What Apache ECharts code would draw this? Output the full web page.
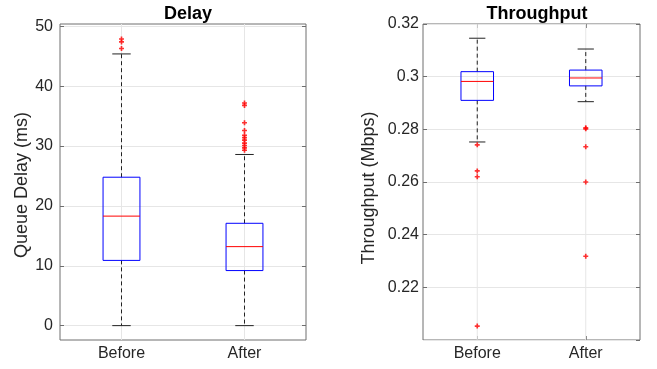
<!DOCTYPE html>
<html lang="en">

<head>
    <meta charset="UTF-8">
    <title>Delay / Throughput</title>
    <style>
        html, body { margin: 0; padding: 0; background: #fff; }
    </style>
</head>

<body>
    <div id="main" style="width: 657px;height:369px;"></div>
</body>
<script src="https://cdn.jsdelivr.net/npm/echarts@6/dist/echarts.min.js"></script>

<script>
    // data
    var categories = ['Before', 'After'];
    // [min whisker, Q1, median, Q3, max whisker]
    var delayStats = [[0, 10.9, 18.3, 24.8, 45.4], [0, 9.2, 13.2, 17.1, 28.6]];
    var delayOutliers = [[47.9, 47.4, 46.3],
        [37.2, 36.8, 33.9, 32.6, 31.8, 31.4, 31.0, 30.5, 30.1, 29.7, 29.3]];
    var tputStats = [[0.2752, 0.2910, 0.2982, 0.3019, 0.3146], [0.2905, 0.2965, 0.2995, 0.3025, 0.3105]];
    var tputOutliers = [[0.2741, 0.2642, 0.2620, 0.2053], [0.2806, 0.2802, 0.2734, 0.2600, 0.2318]];
    var delayTicks = [0, 10, 20, 30, 40, 50];

    var font = 'Liberation Sans, Arial, Helvetica, sans-serif';
    var textColor = '#262626';
    var frameColor = '#6e6e6e';
    var gridColor = '#e6e6e6';
    var plusSymbol = 'path://M0,2h6v2h-6zM2,0h2v6h-2z';

    function boxRows(stats) {
        var rows = [];
        for (var i = 0; i < stats.length; i++) {
            rows.push([i].concat(stats[i]));
        }
        return rows;
    }

    function outlierRows(list) {
        var rows = [];
        for (var i = 0; i < list.length; i++) {
            for (var j = 0; j < list[i].length; j++) {
                rows.push([i, list[i][j]]);
            }
        }
        return rows;
    }

    // matlab style box: blue box, red median, black dashed whiskers
    function renderBox(params, api) {
        var i = api.value(0);
        var pMin = api.coord([i, api.value(1)]);
        var pQ1 = api.coord([i, api.value(2)]);
        var pMed = api.coord([i, api.value(3)]);
        var pQ3 = api.coord([i, api.value(4)]);
        var pMax = api.coord([i, api.value(5)]);
        var bw = api.size([1, 0])[0];
        var hb = bw * 0.15, hc = bw * 0.075;
        var x = pMin[0];
        var cs = params.coordSys;
        var dash = { stroke: '#222', lineWidth: 1, lineDash: [4, 3] };
        var solid = { stroke: '#222', lineWidth: 1 };
        return {
            type: 'group',
            children: [
                { type: 'line', shape: { x1: x, y1: cs.y, x2: x, y2: cs.y + cs.height }, style: { stroke: gridColor, lineWidth: 1 } },
                { type: 'line', shape: { x1: x, y1: pQ3[1], x2: x, y2: pMax[1] }, style: dash },
                { type: 'line', shape: { x1: x, y1: pQ1[1], x2: x, y2: pMin[1] }, style: dash },
                { type: 'line', shape: { x1: x - hc, y1: pMax[1], x2: x + hc, y2: pMax[1] }, style: solid },
                { type: 'line', shape: { x1: x - hc, y1: pMin[1], x2: x + hc, y2: pMin[1] }, style: solid },
                { type: 'rect', shape: { x: x - hb, y: pQ3[1], width: 2 * hb, height: pQ1[1] - pQ3[1] }, style: { fill: 'none', stroke: '#0000ff', lineWidth: 1 } },
                { type: 'line', shape: { x1: x - hb, y1: pMed[1], x2: x + hb, y2: pMed[1] }, style: { stroke: '#ff0000', lineWidth: 1 } }
            ]
        };
    }

    function catAxis(idx, pos) {
        return {
            type: 'category', gridIndex: idx, position: pos, data: categories,
            axisLine: { show: false },
            axisTick: { show: true, inside: true, length: 4, alignWithLabel: true, lineStyle: { color: frameColor } },
            axisLabel: { show: pos === 'bottom', color: textColor, fontSize: 16, fontFamily: font, margin: 6 },
            splitLine: { show: false }
        };
    }

    function valAxis(idx, pos, extra) {
        var ax = {
            type: 'value', gridIndex: idx, position: pos,
            axisLine: { show: false },
            axisTick: { show: true, inside: true, length: 4, lineStyle: { color: frameColor } },
            axisLabel: { show: pos === 'left', color: textColor, fontSize: 16, fontFamily: font },
            splitLine: { show: pos === 'left', lineStyle: { color: gridColor, width: 1 } },
            nameTextStyle: { color: textColor, fontSize: 18, fontFamily: font }
        };
        for (var k in extra) ax[k] = extra[k];
        return ax;
    }

    var delayY = { min: -2.4, max: 50.4 };
    var tputY = { min: 0.2, max: 0.32, interval: 0.02 };

    var myChart = echarts.init(document.getElementById('main'));
    var yL0 = valAxis(0, 'left', delayY);
    yL0.axisTick.customValues = delayTicks;
    yL0.axisLabel.customValues = delayTicks;
    yL0.axisLabel.margin = 7;
    yL0.name = 'Queue Delay (ms)';
    yL0.nameLocation = 'middle';
    yL0.nameGap = 27;
    yL0.nameTextStyle.padding = [0, 6, 0, 0];
    var yR0 = valAxis(0, 'right', delayY);
    yR0.axisTick.customValues = delayTicks;
    var yL1 = valAxis(1, 'left', tputY);
    yL1.axisLabel.showMinLabel = false;
    yL1.axisLabel.margin = 4;
    yL1.name = 'Throughput (Mbps)';
    yL1.nameLocation = 'middle';
    yL1.nameGap = 45;
    yL1.nameTextStyle.padding = [0, 12, 0, 0];
    var yR1 = valAxis(1, 'right', tputY);

    myChart.setOption({
        animation: false,
        title: [
            { text: 'Delay', left: 183, top: 0, textAlign: 'center', textStyle: { fontSize: 18, fontWeight: 'bold', color: '#000', fontFamily: font } },
            { text: 'Throughput', left: 532, top: 0, textAlign: 'center', textStyle: { fontSize: 18, fontWeight: 'bold', color: '#000', fontFamily: font } }
        ],
        grid: [
            { left: 60, right: 351, top: 24, bottom: 29, show: true, borderColor: frameColor, borderWidth: 1, backgroundColor: '#fff' },
            { left: 423, right: 17, top: 24, bottom: 29, show: true, borderColor: frameColor, borderWidth: 1, backgroundColor: '#fff' }
        ],
        xAxis: [catAxis(0, 'bottom'), catAxis(0, 'top'), catAxis(1, 'bottom'), catAxis(1, 'top')],
        yAxis: [yL0, yR0, yL1, yR1],
        series: [
            {
                type: 'custom', xAxisIndex: 0, yAxisIndex: 0, renderItem: renderBox,
                encode: { x: 0, y: [1, 2, 3, 4, 5] }, data: boxRows(delayStats), clip: true
            },
            {
                type: 'scatter', xAxisIndex: 0, yAxisIndex: 0, symbol: plusSymbol, symbolSize: 5,
                itemStyle: { color: '#ff0000' }, data: outlierRows(delayOutliers)
            },
            {
                type: 'custom', xAxisIndex: 2, yAxisIndex: 2, renderItem: renderBox,
                encode: { x: 0, y: [1, 2, 3, 4, 5] }, data: boxRows(tputStats), clip: true
            },
            {
                type: 'scatter', xAxisIndex: 2, yAxisIndex: 2, symbol: plusSymbol, symbolSize: 5,
                itemStyle: { color: '#ff0000' }, data: outlierRows(tputOutliers)
            }
        ]
    });
</script>

</html>
